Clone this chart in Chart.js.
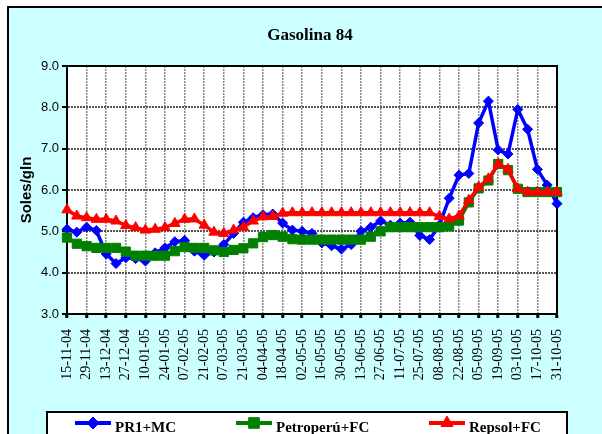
<!DOCTYPE html>
<html>
<head>
<meta charset="utf-8">
<script src="https://cdn.jsdelivr.net/npm/chart.js@4.4.1/dist/chart.umd.min.js"></script>
<style>
    html, body { margin: 0; padding: 0; background: #fff; overflow: hidden; width: 602px; height: 434px; }
    #frame { position: absolute; left: 7px; top: 6px; width: 640px; height: 480px; background: #CCFFFF; border: 2px solid #000; }
    #chart { position: absolute; left: 0; top: 0; }
</style>
</head>
<body>
<div id="frame"></div>
<canvas id="chart" width="602" height="434"></canvas>
<script>
// weekly dates, only every second one is labelled on the axis
const dates = [
    '15-11-04', '22-11-04', '29-11-04', '06-12-04', '13-12-04', '20-12-04', '27-12-04',
    '03-01-05', '10-01-05', '17-01-05', '24-01-05', '31-01-05', '07-02-05', '14-02-05',
    '21-02-05', '28-02-05', '07-03-05', '14-03-05', '21-03-05', '28-03-05', '04-04-05',
    '11-04-05', '18-04-05', '25-04-05', '02-05-05', '09-05-05', '16-05-05', '23-05-05',
    '30-05-05', '06-06-05', '13-06-05', '20-06-05', '27-06-05', '04-07-05', '11-07-05',
    '18-07-05', '25-07-05', '01-08-05', '08-08-05', '15-08-05', '22-08-05', '29-08-05',
    '05-09-05', '12-09-05', '19-09-05', '26-09-05', '03-10-05', '10-10-05', '17-10-05',
    '24-10-05', '31-10-05'
];

const pr1Mc = [
    5.05, 4.98, 5.1, 5.02, 4.45, 4.22, 4.36, 4.34, 4.28, 4.48,
    4.6, 4.75, 4.78, 4.52, 4.42, 4.5, 4.68, 4.95, 5.22, 5.33,
    5.4, 5.42, 5.2, 5.03, 5.0, 4.95, 4.72, 4.65, 4.57, 4.68,
    5.0, 5.1, 5.25, 5.15, 5.2, 5.22, 4.9, 4.8, 5.15, 5.8,
    6.36, 6.4, 7.62, 8.15, 6.97, 6.87, 7.95, 7.47, 6.5, 6.12,
    5.67
];

const petroperuFc = [
    4.85, 4.7, 4.64, 4.6, 4.6, 4.6, 4.51, 4.41, 4.41, 4.41,
    4.41, 4.52, 4.62, 4.6, 4.6, 4.54, 4.5, 4.55, 4.59, 4.71,
    4.86, 4.91, 4.87, 4.81, 4.8, 4.8, 4.8, 4.8, 4.8, 4.8,
    4.8, 4.87, 5.0, 5.1, 5.1, 5.1, 5.1, 5.1, 5.1, 5.12,
    5.26, 5.7, 6.04, 6.23, 6.63, 6.48, 6.03, 5.95, 5.95, 5.95,
    5.95
];

const repsolFc = [
    5.52, 5.37, 5.33, 5.29, 5.29, 5.25, 5.14, 5.09, 5.03, 5.05,
    5.09, 5.19, 5.29, 5.3, 5.15, 4.98, 4.95, 5.03, 5.1, 5.25,
    5.35, 5.36, 5.44, 5.45, 5.45, 5.45, 5.45, 5.45, 5.45, 5.45,
    5.45, 5.45, 5.45, 5.45, 5.45, 5.45, 5.45, 5.45, 5.36, 5.3,
    5.37, 5.75, 6.07, 6.27, 6.63, 6.5, 6.03, 5.95, 5.95, 5.95,
    5.95
];

const seriesNames = ['PR1+MC', 'Petroperú+FC', 'Repsol+FC'];
const yTicks = [3, 4, 5, 6, 7, 8, 9];

// white plot area, black frame, title and the boxed legend at the bottom
const framePlugin = {
    id: 'frame',
    beforeDraw(chart) {
        const { ctx, chartArea: a } = chart;
        ctx.save();
        ctx.fillStyle = '#fff';
        ctx.fillRect(a.left, a.top, a.right - a.left, a.bottom - a.top);
        ctx.restore();
    },
    beforeDatasetsDraw(chart) {
        const { ctx, chartArea: a } = chart;
        ctx.save();
        ctx.strokeStyle = '#000';
        ctx.lineWidth = 2;
        ctx.strokeRect(a.left, a.top, a.right - a.left, a.bottom - a.top);
        ctx.restore();
    },
    afterDraw(chart) {
        const ctx = chart.ctx;
        ctx.save();

        // title
        ctx.fillStyle = '#000';
        ctx.font = 'bold 17px "Liberation Serif"';
        ctx.textAlign = 'center';
        ctx.textBaseline = 'middle';
        ctx.fillText('Gasolina 84', 310, 36);

        // legend box
        ctx.fillStyle = '#fff';
        ctx.fillRect(47, 412, 520, 40);
        ctx.strokeStyle = '#000';
        ctx.lineWidth = 2;
        ctx.strokeRect(47, 412, 520, 40);

        const lineStart = [75, 236, 429];
        chart.data.datasets.forEach((ds, i) => {
            const x0 = lineStart[i];
            const y = 423;
            ctx.strokeStyle = ds.borderColor;
            ctx.lineWidth = 4;
            ctx.beginPath();
            ctx.moveTo(x0, y);
            ctx.lineTo(x0 + 36, y);
            ctx.stroke();
            ctx.fillStyle = ds.backgroundColor;
            ctx.strokeStyle = ds.borderColor;
            ctx.lineWidth = 1;
            Chart.helpers.drawPoint(ctx, {
                pointStyle: ds.pointStyle,
                radius: ds.pointRadius + 1,
                rotation: 0,
                borderWidth: 1
            }, x0 + 18, y);
            ctx.fillStyle = '#000';
            ctx.font = 'bold 15px "Liberation Serif"';
            ctx.textAlign = 'left';
            ctx.textBaseline = 'alphabetic';
            ctx.fillText(ds.label, x0 + 40, 432);
        });
        ctx.restore();
    }
};

new Chart(document.getElementById('chart'), {
    type: 'line',
    data: {
        labels: dates,
        datasets: [
            {
                label: seriesNames[0],
                data: pr1Mc,
                borderColor: '#0000FF',
                backgroundColor: '#0000FF',
                borderWidth: 3.5,
                pointStyle: 'rectRot',
                pointRadius: 5,
                pointBorderWidth: 1,
                tension: 0,
                order: 3
            },
            {
                label: seriesNames[1],
                data: petroperuFc,
                borderColor: '#008000',
                backgroundColor: '#008000',
                borderWidth: 3.5,
                pointStyle: 'rect',
                pointRadius: 6.5,
                pointBorderWidth: 1,
                tension: 0,
                order: 2
            },
            {
                label: seriesNames[2],
                data: repsolFc,
                borderColor: '#FF0000',
                backgroundColor: '#FF0000',
                borderWidth: 3.5,
                pointStyle: 'triangle',
                pointRadius: 6,
                pointBorderWidth: 1,
                tension: 0,
                order: 1
            }
        ]
    },
    options: {
        responsive: false,
        animation: false,
        events: [],
        layout: { padding: { left: 0, top: 66, right: 45, bottom: 0 } },
        plugins: {
            legend: { display: false },
            title: { display: false },
            tooltip: { enabled: false }
        },
        scales: {
            x: {
                offset: false,
                afterFit: s => { s.height = 120; },
                grid: {
                    color: '#888',
                    lineWidth: 1.5,
                    tickLength: 4,
                    tickWidth: 3,
                    tickColor: '#000',
                    tickBorderDash: []
                },
                border: { display: true, color: '#000', width: 2, dash: [2, 1] },
                ticks: {
                    autoSkip: false,
                    maxRotation: 90,
                    minRotation: 90,
                    padding: 11,
                    color: '#000',
                    font: { family: '"Liberation Serif"', size: 14 },
                    callback: (v, i) => (i % 2 === 0 ? dates[i] : null)
                }
            },
            y: {
                min: yTicks[0],
                max: yTicks[yTicks.length - 1],
                afterFit: s => { s.width = 67; },
                afterBuildTicks: s => { s.ticks = yTicks.map(v => ({ value: v })); },
                grid: {
                    color: '#555',
                    lineWidth: 2,
                    tickLength: 5,
                    tickWidth: 2,
                    tickColor: '#000',
                    tickBorderDash: []
                },
                border: { display: true, color: '#000', width: 2, dash: [2, 1] },
                ticks: {
                    padding: 3,
                    color: '#000',
                    font: { family: '"Liberation Sans"', size: 13 },
                    callback: v => v.toFixed(1)
                },
                title: {
                    display: true,
                    text: 'Soles/gln',
                    color: '#000',
                    font: { family: '"Liberation Sans"', size: 15, weight: 'bold' },
                    padding: { top: 18, bottom: 0 }
                }
            }
        }
    },
    plugins: [framePlugin]
});
</script>
</body>
</html>
